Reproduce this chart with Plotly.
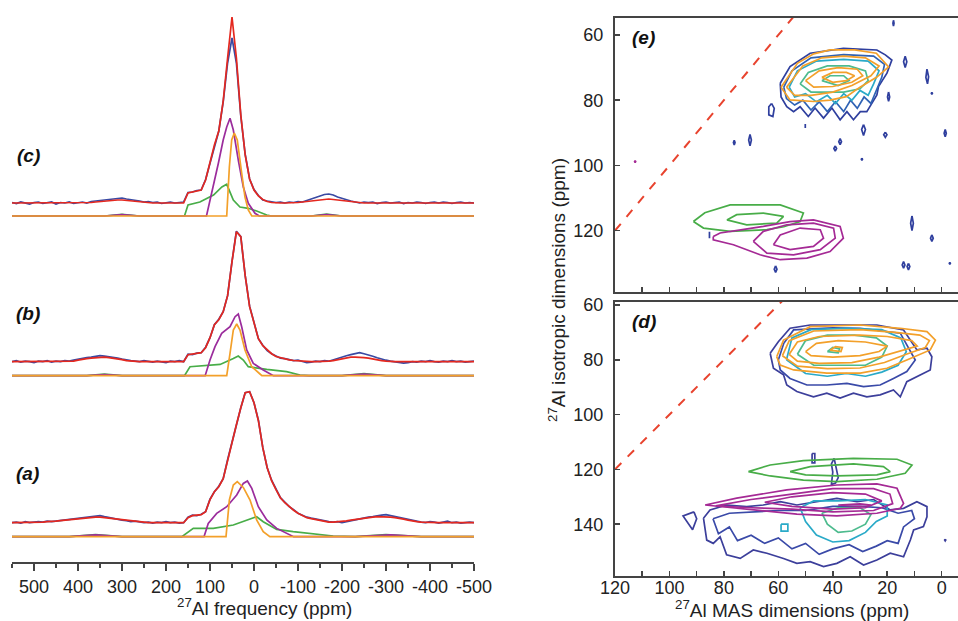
import plotly.graph_objects as go

# ---------------- 1D spectra (left panel) ----------------
PPM_GRID = list(range(550, -501, -10))

EXP_C = [0.5, -0.5, 1, 0, -1, 0.5, 1, -0.5, 0, 1,
         -1, 0.5, 0, 1, -0.5, 0.5, 1, 0, 1.5, 2,
         2.5, 3, 3.5, 4, 4.5, 5, 4, 3.5, 2.5, 2,
         1, 1.5, 0.5, 1, -0.5, 0.5, 1, 0, 0.5, 1,
         10.5, 11, 12.5, 13, 23.5, 40, 57, 72, 101, 140,
         165, 140, 87, 48.5, 24, 13.5, 7.5, 3, 2, 1,
         0.5, 1, 0, 1, 0.5, 1.5, 1, 2.5, 4, 5.5,
         7, 8.5, 9, 8, 6, 4.5, 3, 2, 1, 0,
         1, 0.5, 1, -0.5, 0.5, 1, 0, 0.5, 1, -0.5,
         0.5, 0, 1, 0.5, -0.5, 0.5, 1, 0, 1, 0.5,
         -0.5, 0.5, 1, 0, 0.5, 0]
FIT_C = [0, 0, 0, 0, 0, 0, 0, 0, 0, 0,
         0, 0, 0, 0, 0, 0, 0, 0, 0.5, 1,
         1.5, 2, 2.5, 3, 3, 3, 2.5, 2, 1.5, 1,
         0.5, 0.3, 0, 0, 0, 0, 0, 0, 0, 0,
         10, 11, 12, 13, 23, 40, 58, 72, 102, 145,
         186, 145, 88, 48, 24, 13, 7, 3.5, 1.5, 0.5,
         0, 0, 0, 0, 0, 0.5, 1, 1.5, 2.5, 3,
         3.5, 4, 4, 3.5, 3, 2, 1.5, 1, 0.5, 0,
         0, 0, 0, 0, 0, 0, 0, 0, 0, 0,
         0, 0, 0, 0, 0, 0, 0, 0, 0, 0,
         0, 0, 0, 0, 0, 0]
EXP_B = [0, 1, -0.5, 0.5, 0, -1, 0.5, 0, 1, -0.5,
         0.5, 0, 1, 0.5, 1.5, 2.5, 3, 4, 4.5, 5,
         6, 5.5, 5, 4, 3.5, 2.5, 1.5, 1, 0.5, 0,
         1, 0, -0.5, 0.5, 0, -1, 0.5, 0, 1, 0,
         7.5, 7, 8.5, 9, 14.5, 24, 37, 42.5, 50, 66,
         100, 130.5, 125, 86, 55.5, 38, 23, 16.5, 11, 8,
         5.5, 3.5, 3, 2, 1, 1.5, 0, -1, -0.5, 0.5,
         0, 1, 0.5, 2, 3, 4.5, 6, 7, 8, 9,
         8, 7, 5.5, 4, 2.5, 1.5, 0.5, 0, -1, -1.5,
         -1, 0, -0.5, 0.5, 0, 1, 0, -0.5, 0.5, 0,
         1, 0, 0.5, -0.5, 0, 0.5]
FIT_B = [0, 0, 0, 0, 0, 0, 0, 0, 0, 0,
         0, 0, 0, 0, 0.5, 1.5, 2.5, 3, 3.5, 4,
         4.5, 4.5, 4, 3.5, 3, 2, 1, 0.5, 0, 0,
         0, 0, 0, 0, 0, 0, 0, 0, 0, 0,
         7, 7.5, 8, 9, 14, 24, 37, 42, 50, 66,
         100, 130, 125, 86, 55, 38, 23, 16, 11.5, 8,
         5.2, 4, 2.8, 1.8, 1.2, 0.8, 0.4, 0, 0, 0,
         0, 0, 0.5, 1, 2, 3, 4, 4.5, 4.5, 4.5,
         4, 3.5, 2.5, 1.5, 1, 0.5, 0, 0, 0, 0,
         0, 0, 0, 0, 0, 0, 0, 0, 0, 0,
         0, 0, 0, 0, 0, 0]
EXP_A = [0, 0.5, -0.5, 1, 0, 0.5, 1, 0.5, 1.5, 1,
         1.5, 2, 2.5, 3, 4, 4.5, 5, 5.5, 6, 6.5,
         7, 6, 5, 4.5, 3.5, 2.5, 2, 1, 1.5, 0.5,
         0, 0.5, -0.5, 0.5, 0, 1, 0, 0.5, -0.5, 0,
         5.5, 7.5, 7, 8.5, 11, 23.5, 31, 36.5, 44, 63,
         81, 98.5, 115, 130, 131, 120, 102.5, 75, 55, 42.5,
         33.5, 25, 20.5, 16, 13, 9.5, 7.5, 5.5, 4.5, 3.5,
         2.5, 1.5, 1, 0.5, 1, 0, 1, 1.5, 2.5, 3.5,
         4.5, 5.5, 6, 7, 7.5, 8, 7, 6, 5, 4,
         3, 2, 1, 0.5, 0, 1, 0.5, -0.5, 0.5, 1.5,
         0, 0.5, -0.5, 0, 0.5, 0]
FIT_A = [0, 0, 0, 0, 0, 0, 0.5, 0.5, 1, 1,
         1.5, 2, 2.5, 3, 3.5, 4, 4.5, 5, 5.5, 5.5,
         5.5, 5, 4.5, 4, 3, 2.5, 2, 1.5, 1, 0.5,
         0.3, 0, 0, 0, 0, 0, 0, 0, 0, 0,
         5, 7, 7.5, 8, 11, 23, 31, 36, 44, 63,
         81, 98, 115, 130, 131, 120, 102, 75, 55, 42,
         33, 25, 20, 16, 12.5, 9.5, 7, 5, 4, 3,
         2, 1.2, 0.6, 0.5, 0.8, 1.2, 1.8, 2.5, 3.2, 4,
         4.5, 5, 5.5, 6, 6, 6, 5.5, 5, 4.5, 3.5,
         2.5, 1.5, 1, 0.5, 0.2, 0, 0, 0, 0, 0,
         0, 0, 0, 0, 0, 0]

# deconvolution components
GREEN_C_PPM = [550, 340, 300, 260, 160, 158, 150, 123, 92, 73, 62, 54, 47, 32, 13, -6, -29, -40, -130, -165, -200, -500]
GREEN_C = [0, 0, 1.7, 0, 0, 0, 11, 14, 21, 29, 31.7, 24, 16, 9, 7.7, 5, 1, 0, 0, 2, 0, 0]
PURPLE_C_PPM = [550, 340, 300, 260, 108, 92.5, 81, 70, 62, 54.5, 47, 35.7, 24.3, 13, -2.3, -12, -130, -165, -200, -500]
PURPLE_C = [0, 0, 1.5, 0, 0, 29, 52.7, 76, 89, 97.7, 86, 56, 29, 12.7, 2.7, 0, 0, 1.5, 0, 0]
ORANGE_C_PPM = [550, 62, 56, 50.7, 44.8, 38, 28, 20.5, 13, 5, -500]
ORANGE_C = [0, 0, 49, 76, 83, 76, 43, 19, 6, 0, 0]

GREEN_B_PPM = [550, 380, 340, 300, 160, 158, 145.5, 77, 47, 35.7, 24.3, 13, -29, -74, -104.5, -125, -200, -250, -300, -500]
GREEN_B = [0, 0, 1.5, 0, 0, 0, 9, 11.3, 17.3, 19.7, 15.7, 9, 6.3, 4, 0.7, 0, 0, 2, 0, 0]
PURPLE_B_PPM = [550, 380, 340, 300, 111, 100, 88.6, 73.4, 54.5, 43, 35.7, 28, 16.6, 1.6, -21, -44, -200, -250, -300, -500]
PURPLE_B = [0, 0, 1.2, 0, 0, 15.7, 29, 42.3, 49, 59, 61.7, 49, 25.7, 12.3, 5.7, 0, 0, 1.5, 0, 0]
ORANGE_B_PPM = [550, 62, 54.5, 47, 39.3, 31.8, 20.5, 5.2, -13.6, -18, -500]
ORANGE_B = [0, 0, 22.3, 45.7, 51.7, 45.7, 25.7, 9, 1.7, 0, 0]

GREEN_A_PPM = [550, 420, 360, 300, 170, 164, 138, 92.5, 47, 16.6, -6, -21, -51.6, -89, -142, -180, -230, -300, -380, -500]
GREEN_A = [0, 0, 2, 0, 0, 0, 8.3, 8.3, 11.7, 16.7, 20, 15, 7.3, 5, 2.7, 0.7, 0, 2, 0, 0]
PURPLE_A_PPM = [550, 420, 360, 300, 113.6, 104, 84.8, 62, 39.3, 24.3, 15, 5, -9.8, -29, -51.6, -82, -90, -230, -310, -380, -500]
PURPLE_A = [0, 0, 1.8, 0, 0, 13.3, 23.3, 30, 41.7, 53.3, 55.7, 48.3, 30, 16.7, 8.3, 1.7, 0, 0, 1.8, 0, 0]
ORANGE_A_PPM = [550, 63.6, 56, 47, 38, 24.3, 9, -6, -21, -36, -500]
ORANGE_A = [0, 0, 36.7, 51.7, 55, 49.3, 36.7, 16.7, 5, 0, 0]

FREQ_TICKS = list(range(500, -501, -100))
FREQ_LABELS = [str(v) for v in FREQ_TICKS]
FREQ_MINOR = list(range(550, -500, -100))

# ---------------- 2D MQMAS contours (ppm MAS, ppm isotropic) ----------------
E_DBLUE = [
    [(59.3, 74.8), (55.7, 69.7), (48.3, 65.6), (36.1, 64.1), (23.8, 64.6), (20.7, 66.1), (18.3, 67.7), (20.1, 71.7),
     (23.2, 75.8), (23.8, 78.4), (25.6, 80.9), (27.5, 83.5), (29.9, 83.5), (32.4, 86), (34.8, 83.5), (37.3, 86),
     (40.3, 82.4), (43.4, 85.5), (46.5, 82.4), (49, 85), (52, 82), (54.4, 83.5), (56.9, 82), (59, 79), (59.3, 74.8)],
    [(62.5, 81), (61.5, 82.5), (62, 85), (63.5, 84.5), (63.5, 82), (62.5, 81)],
    [(13.4, 66.5), (12.8, 68.2), (13.4, 70), (14, 68.2), (13.4, 66.5)],
    [(5.4, 70.5), (4.8, 72.8), (5.2, 75), (5.8, 73), (5.4, 70.5)],
    [(19.5, 77.5), (19.1, 79), (19.5, 80.3), (19.9, 79), (19.5, 77.5)],
    [(17.7, 55.5), (17.5, 56.4), (17.7, 57.3), (17.9, 56.4), (17.7, 55.5)],
    [(28.7, 87.5), (28, 89), (28.7, 90.8), (29.4, 89), (28.7, 87.5)],
    [(37.3, 91.8), (36.8, 92.7), (37.3, 93.6), (37.8, 92.7), (37.3, 91.8)],
    [(39.1, 94), (38.6, 94.8), (39.1, 95.6), (39.6, 94.8), (39.1, 94)],
    [(20.7, 89.8), (20.1, 90.6), (20.7, 91.4), (21.3, 90.6), (20.7, 89.8)],
    [(-1.3, 89), (-1.7, 90.1), (-1.3, 91.2), (-0.9, 90.1), (-1.3, 89)],
    [(70.4, 90.5), (69.9, 92.2), (70.4, 94), (70.9, 92.2), (70.4, 90.5)],
    [(76.2, 92.3), (75.9, 93), (76.2, 93.7), (76.5, 93), (76.2, 92.3)],
    [(50.1, 87.3), (50, 87.9), (50.1, 88.5), (50.2, 87.9), (50.1, 87.3)],
    [(29.3, 97.8), (29.1, 98.1), (29.3, 98.4), (29.5, 98.1), (29.3, 97.8)],
    [(3.6, 77.6), (3.4, 77.9), (3.6, 78.2), (3.8, 77.9), (3.6, 77.6)],
    [(10.9, 115.5), (10.4, 117.7), (10.9, 120), (11.4, 117.7), (10.9, 115.5)],
    [(3.6, 121.3), (3.1, 122.3), (3.6, 123.3), (4.1, 122.3), (3.6, 121.3)],
    [(14, 129.5), (13.5, 130.5), (14, 131.5), (14.5, 130.5), (14, 129.5)],
    [(12.2, 130), (11.7, 131), (12.2, 132), (12.7, 131), (12.2, 130)],
    [(-3, 129.7), (-3.2, 130), (-3, 130.3), (-2.8, 130), (-3, 129.7)],
    [(61, 130.8), (60.5, 131.8), (61, 132.8), (61.5, 131.8), (61, 130.8)],
    [(85.3, 120.3), (85.2, 121.3), (85.3, 122.3), (85.4, 121.3), (85.3, 120.3)],
]
E_BLUE = [
    [(58, 76), (55, 71), (48, 67), (36, 66), (25, 66.5), (21, 69), (22, 73), (24, 77), (26, 81), (28.5, 79),
     (31, 82.5), (33.5, 80), (36, 83.5), (39, 80.5), (42, 83.5), (45, 80.5), (48, 83), (51, 80), (54, 81.5),
     (57, 79.5), (58, 76)],
]
E_CYAN = [
    [(56, 76), (53, 71), (46, 68), (36, 67.5), (27, 68), (23, 71), (25, 75), (27, 78.5), (30, 77), (33, 80),
     (36, 78), (39, 81), (42, 78.5), (46, 80.5), (50, 78), (54, 79), (56, 76)],
]
E_TEAL = [
    [(52, 75), (49, 71.5), (42, 69.5), (34, 69.5), (28, 71), (27, 74), (30, 76.5), (36, 77.5), (42, 77.5),
     (48, 77.5), (52, 75)],
    [(44, 74), (41, 72.5), (36, 72.5), (34, 74), (38, 75.5), (44, 74)],
]
E_ORANGE = [
    [(59, 76), (53, 68.7), (47, 65.8), (41, 64.6), (32, 64.6), (24, 65.6), (19.5, 69.8), (23.8, 72.9), (30, 76),
     (35, 78.9), (41, 80), (47, 80.4), (55.7, 79.9), (59, 76)],
    [(57, 76), (51, 69.5), (44, 67), (36, 66.5), (28, 67), (23, 69.5), (26, 72.5), (33, 75.5), (40, 77.5),
     (48, 78.5), (54, 78.5), (57, 76)],
    [(50, 74), (45, 71), (38, 70), (31, 70.5), (29, 72.5), (33, 74.5), (40, 75.8), (47, 76), (50, 74)],
    [(44, 73), (40, 71.5), (35, 71.5), (32, 72.5), (35, 74), (40, 74.5), (44, 73)],
]
E_GREEN = [
    [(91.2, 117.2), (87, 114.5), (77.7, 112.1), (59.3, 112.1), (50.8, 114.6), (52, 117.2), (58, 118.8),
     (64.2, 119.7), (77.7, 120.2), (87.5, 119.2), (91.2, 117.2)],
    [(78.9, 116.7), (75.3, 115.1), (65.5, 114.6), (58.1, 115.6), (60.6, 117.7), (71.6, 118.2), (78.9, 116.7)],
]
E_MAGENTA = [
    [(83.9, 121.8), (81.4, 120.7), (72, 119.5), (65.5, 118.7), (55.7, 117.2), (47.1, 116.7), (37.3, 118.7),
     (36.1, 122.3), (41, 126.4), (49.5, 128.4), (59.3, 128.9), (66.7, 127.4), (76.5, 124.3), (83.9, 122.8),
     (83.9, 121.8)],
    [(69.2, 123.3), (65.5, 120.2), (56.9, 118.2), (47.1, 117.7), (39.7, 119.2), (39.1, 122.3), (44.6, 125.8),
     (54.4, 127.4), (64.2, 126.9), (69.2, 123.3)],
    [(61.8, 124.3), (59.3, 121.3), (52, 119.2), (44.6, 119.7), (43.4, 122.3), (47.1, 124.8), (55.7, 125.8),
     (61.8, 124.3)],
    [(112.6, 98.5), (112.4, 98.8), (112.6, 99.1), (112.8, 98.8), (112.6, 98.5)],
]

D_DBLUE = [
    [(63, 77.6), (60, 73.4), (55.7, 68.5), (48.3, 67.3), (36.1, 67.3), (23.8, 67.3), (14, 69.1), (9.1, 76.4),
     (5.4, 75.8), (3.6, 78.9), (4.2, 83.7), (7.9, 85.5), (12.8, 88), (15.2, 93.5), (17.7, 91), (22.6, 92.8),
     (27.5, 93.5), (32.4, 92.2), (37.3, 94), (42.2, 92.2), (47.1, 93.5), (53.2, 91.6), (56.9, 89.2),
     (58.1, 85.5), (61.8, 83.1), (63, 77.6)],
    [(87.5, 137.8), (86.3, 145.8), (83.9, 147), (81.4, 144.6), (79, 151.2), (74, 152.5), (69.2, 149.4),
     (64.2, 150.6), (58.1, 152.5), (53.2, 154.3), (48.3, 153.7), (43.4, 155.5), (38.5, 154.3), (33.6, 151.9),
     (28.7, 154.9), (23.8, 153.1), (18.9, 150.6), (14, 151.9), (11.5, 145.8), (10.3, 142.1), (6.7, 140.9),
     (5.4, 137.3), (5.4, 133.6), (9.1, 131.8), (14, 134.2), (18.9, 134.8), (25, 131), (31.1, 131.8),
     (38.5, 130.6), (45.8, 131.8), (53.2, 133), (59.3, 131.8), (65.5, 133), (71.6, 133.6), (79, 133),
     (85.1, 134.8), (87.5, 137.8)],
    [(91, 135.5), (95, 137), (91.5, 142), (90, 138), (91, 135.5)],
    [(47.6, 114.2), (46.6, 114.2), (46.6, 117.6), (47.6, 117.6), (47.6, 114.2)],
    [(39.5, 116), (38.5, 120), (38, 123), (39, 125), (40.5, 125.5), (40, 121), (40.5, 118), (39.5, 116)],
    [(-1.3, 145.5), (-1.5, 145.8), (-1.3, 146.1), (-1.1, 145.8), (-1.3, 145.5)],
]
D_BLUE = [
    [(60, 80.1), (58, 74), (54.4, 69.1), (40, 68.3), (29.9, 68.5), (15.2, 70.3), (9.7, 80.1), (12.8, 84.3),
     (17.7, 86.8), (22.6, 89.2), (28.7, 89.8), (34.8, 88.6), (42.2, 89.2), (49.5, 89.2), (55.7, 86.8),
     (59.3, 83.7), (60, 80.1)],
    [(84, 138), (82, 143.5), (78, 141), (75, 146), (70, 144), (65, 147), (60, 145), (55, 149), (50, 147),
     (45, 151), (40, 149), (34, 147.5), (29, 150), (24, 148), (20, 146), (16, 147), (14, 141), (10, 138),
     (11, 135), (16, 136), (22, 134), (30, 133.5), (40, 133.5), (50, 135), (60, 135), (70, 135.5), (78, 136),
     (84, 138)],
]
D_CYAN = [
    [(57, 80), (55, 72), (48, 69), (35, 68.5), (22, 69), (15, 72), (13, 77), (16, 82), (22, 84.5), (28, 86),
     (35, 85), (42, 86), (50, 85), (57, 80)],
    [(52, 134), (50, 139), (46, 144), (40, 146.5), (34, 146), (28, 143), (24, 139), (20, 137), (20, 133),
     (28, 131), (38, 131.5), (47, 131.5), (52, 134)],
    [(59, 140), (59, 142.5), (56.5, 142.5), (56.5, 140), (59, 140)],
]
D_TEAL = [
    [(53, 78), (50, 73), (42, 71), (32, 71), (24, 72), (20, 75), (22, 79), (28, 82), (38, 82), (47, 82), (53, 78)],
    [(42, 77), (40, 75.5), (37.5, 76), (38, 77.5), (42, 77)],
    [(44, 136), (42, 140), (38, 143), (33, 142.5), (28, 140), (26, 136.5), (30, 134), (38, 134), (44, 136)],
]
D_ORANGE = [
    [(60.6, 78.9), (58.1, 72.8), (48.3, 67.9), (29.9, 67.3), (15.2, 68.5), (5.4, 69.7), (2.3, 72.8), (4.2, 76.4),
     (12.8, 80.1), (20.1, 83.1), (29.9, 84.9), (42.2, 84.9), (54.4, 83.7), (59.3, 81.9), (60.6, 78.9)],
    [(58.5, 78.5), (56, 73), (47, 69.5), (30, 69), (17, 70), (8, 71), (4.5, 73), (6, 75.5), (13, 78), (21, 81),
     (30, 83), (42, 83.2), (53, 82.3), (58.5, 78.5)],
    [(56, 78), (53, 73.5), (45, 71.5), (30, 71), (20, 71.5), (11, 73), (9, 75), (14, 76.5), (23, 79), (33, 81),
     (45, 81.3), (53, 80.5), (56, 78)],
    [(50, 77), (46, 74), (38, 73), (28, 73.5), (20, 75), (23, 77), (30, 78.5), (40, 79), (48, 78.5), (50, 77)],
    [(41, 76.5), (39, 75.2), (36.5, 75.5), (37, 77), (41, 76.5)],
]
D_GREEN = [
    [(71, 120.8), (63, 118.4), (50.8, 116.8), (32.4, 116), (16.4, 116.3), (10.9, 118.4), (13.4, 121.4),
     (23.8, 123.6), (38.5, 124.5), (50.8, 123.9), (63, 122.4), (71, 120.8)],
    [(55.7, 120.8), (48.3, 119), (32.4, 118), (21.4, 119), (18.9, 120.8), (23.8, 122), (38.5, 122.4),
     (50, 122), (55.7, 120.8)],
]
D_MAGENTA = [
    [(86.9, 133), (75.3, 130.5), (56.9, 127.5), (38.5, 125.7), (23.8, 125.3), (16.4, 126.9), (14, 132.4),
     (15.2, 134.2), (23.8, 136), (38.5, 137), (53.2, 136.3), (69.2, 134.8), (86.9, 133)],
    [(83, 133.3), (70, 131), (55, 129), (40, 127), (25, 127), (19, 129), (18, 132.5), (25, 135), (40, 135.5),
     (55, 134.5), (70, 134), (83, 133.3)],
    [(65, 132), (55, 130), (40, 128.5), (28, 129), (22, 131.5), (28, 134), (40, 134.5), (55, 133.5), (65, 132)],
    [(38, 133), (30, 132.6), (26, 133), (30, 133.5), (38, 133)],
]

DIAG = [120, 40]  # isotropic = MAS diagonal

MAS_TICKS = list(range(120, -1, -20))
MAS_MINOR = list(range(110, 0, -20))

# ---------------- figure ----------------
W, H = 958, 621
C_BLUE = "#3a4aa3"
C_RED = "#e4281f"
C_PURPLE = "#9b2c9c"
C_GREEN = "#48ad48"
C_ORANGE = "#f3a02a"
AX = "#444444"
FONT = "Liberation Sans, Arial, sans-serif"


def fx(px):
    return px / W


def fy(py):
    return 1 - py / H


fig = go.Figure()

# vertical stacking positions (axis units) for the three spectra
SPEC_OFFSETS = {"a": (39.3, 25.3), "b": (200.3, 186.3), "c": (359, 346)}
spectra = {
    "a": (EXP_A, FIT_A, (GREEN_A_PPM, GREEN_A), (PURPLE_A_PPM, PURPLE_A), (ORANGE_A_PPM, ORANGE_A)),
    "b": (EXP_B, FIT_B, (GREEN_B_PPM, GREEN_B), (PURPLE_B_PPM, PURPLE_B), (ORANGE_B_PPM, ORANGE_B)),
    "c": (EXP_C, FIT_C, (GREEN_C_PPM, GREEN_C), (PURPLE_C_PPM, PURPLE_C), (ORANGE_C_PPM, ORANGE_C)),
}


def line(x, y, color, width, xa="x", ya="y", dash=None):
    fig.add_trace(go.Scatter(x=x, y=y, mode="lines", xaxis=xa, yaxis=ya,
                             line=dict(color=color, width=width, dash=dash),
                             hoverinfo="skip", showlegend=False))


for key, (exp, fit, g, p, o) in spectra.items():
    d_off, c_off = SPEC_OFFSETS[key]
    line(PPM_GRID, [v + d_off for v in exp], C_BLUE, 1.7)
    line(PPM_GRID, [v + d_off for v in fit], C_RED, 1.7)
    line(g[0], [v + c_off for v in g[1]], C_GREEN, 1.7)
    line(p[0], [v + c_off for v in p[1]], C_PURPLE, 1.7)
    line(o[0], [v + c_off for v in o[1]], C_ORANGE, 1.7)


def loops_xy(loops):
    xs, ys = [], []
    for lp in loops:
        xs += [pt[0] for pt in lp] + [None]
        ys += [pt[1] for pt in lp] + [None]
    return xs, ys


panels = [
    ("x2", "y2", [(E_DBLUE, "#2f3f9e"), (E_BLUE, "#2f62b4"), (E_CYAN, "#2aaac8"), (E_TEAL, "#4dbb8e"),
                  (E_GREEN, C_GREEN), (E_MAGENTA, "#a52a95"), (E_ORANGE, C_ORANGE)]),
    ("x3", "y3", [(D_DBLUE, "#3c3f9b"), (D_BLUE, "#3a4aa8"), (D_CYAN, "#2aaac8"), (D_TEAL, "#4dbb8e"),
                  (D_GREEN, C_GREEN), (D_MAGENTA, "#a52a95"), (D_ORANGE, C_ORANGE)]),
]
for xa, ya, groups in panels:
    for loops, col in groups:
        xs, ys = loops_xy(loops)
        line(xs, ys, col, 1.7, xa, ya)
    line(DIAG, DIAG, "#e8432e", 2, xa, ya, dash="dash")

tickfont = dict(family=FONT, size=18, color="#222")
common_right_x = dict(domain=[fx(615), 1.0], range=[120, -6], showline=True, mirror=True, linecolor=AX,
                      linewidth=2, ticks="inside", ticklen=5, tickwidth=1.5, tickcolor=AX,
                      tickmode="array", tickvals=MAS_TICKS, showgrid=False,
                      zeroline=False, tickfont=tickfont, automargin=False, ticklabelstandoff=-5,
                      minor=dict(tickmode="array", tickvals=MAS_MINOR, ticks="inside", ticklen=5,
                                 tickwidth=1.5, tickcolor=AX, showgrid=False))
common_right_y = dict(showline=True, linecolor=AX, linewidth=2, ticks="inside", ticklen=5, tickwidth=1.5,
                      tickcolor=AX, showgrid=False, zeroline=False, tickfont=tickfont, ticklabelstandoff=6,
                      automargin=False)

fig.update_layout(
    width=W, height=H, margin=dict(l=0, r=0, t=0, b=0, pad=0, autoexpand=False),
    paper_bgcolor="white", plot_bgcolor="white", showlegend=False,
    xaxis=dict(domain=[fx(12), fx(474)], range=[550, -500], anchor="y", showline=True, linecolor=AX,
               linewidth=2, ticks="outside", ticklen=7, tickwidth=1.5, tickcolor=AX, tickmode="array",
               tickvals=FREQ_TICKS, ticktext=FREQ_LABELS, showgrid=False, zeroline=False, tickfont=tickfont,
               ticklabelstandoff=0, automargin=False,
               minor=dict(tickmode="array", tickvals=FREQ_MINOR, ticks="outside",
                          ticklen=4, tickwidth=1.5, tickcolor=AX, showgrid=False)),
    yaxis=dict(domain=[fy(562), 1.0], range=[0, 562], visible=False, anchor="x", automargin=False),
    xaxis2=dict(anchor="y2", showticklabels=False, **common_right_x),
    yaxis2=dict(domain=[fy(292), fy(18)], range=[138.8, 54.8], anchor="x2", tickmode="array",
                tickvals=[60, 80, 100, 120], **common_right_y),
    xaxis3=dict(anchor="y3", showticklabels=True, **common_right_x),
    yaxis3=dict(domain=[fy(575.7), fy(301.7)], range=[158.8, 58.8], anchor="x3", tickmode="array",
                tickvals=[60, 80, 100, 120, 140], **common_right_y),
)

ann = []
title_font = dict(family=FONT, size=19, color="#222")
ann.append(dict(text="<sup>27</sup>Al frequency (ppm)", x=fx(264), y=fy(607), xref="paper", yref="paper",
                showarrow=False, xanchor="center", yanchor="middle", font=dict(family=FONT, size=19, color="#222")))
ann.append(dict(text="<sup>27</sup>Al MAS dimensions (ppm)", x=fx(792), y=fy(609), xref="paper", yref="paper",
                showarrow=False, xanchor="center", yanchor="middle", font=title_font))
ann.append(dict(text="<sup>27</sup>Al isotropic dimensions (ppm)", x=fx(557), y=fy(290), xref="paper",
                yref="paper", showarrow=False, xanchor="center", yanchor="middle", textangle=-90,
                font=title_font))
lab_font = dict(family=FONT, size=19, color="#111")
for txt, px, py in [("(c)", 28, 155), ("(b)", 28, 313), ("(a)", 27, 474), ("(e)", 643, 37), ("(d)", 644, 321)]:
    ann.append(dict(text="<b><i>" + txt + "</i></b>", x=fx(px), y=fy(py), xref="paper", yref="paper",
                    showarrow=False, xanchor="center", yanchor="middle", font=lab_font))
fig.update_layout(annotations=ann)

fig.write_html("out.html", config={"displayModeBar": False, "staticPlot": True},
               post_script="document.body.style.margin='0';document.body.style.overflow='hidden';")
